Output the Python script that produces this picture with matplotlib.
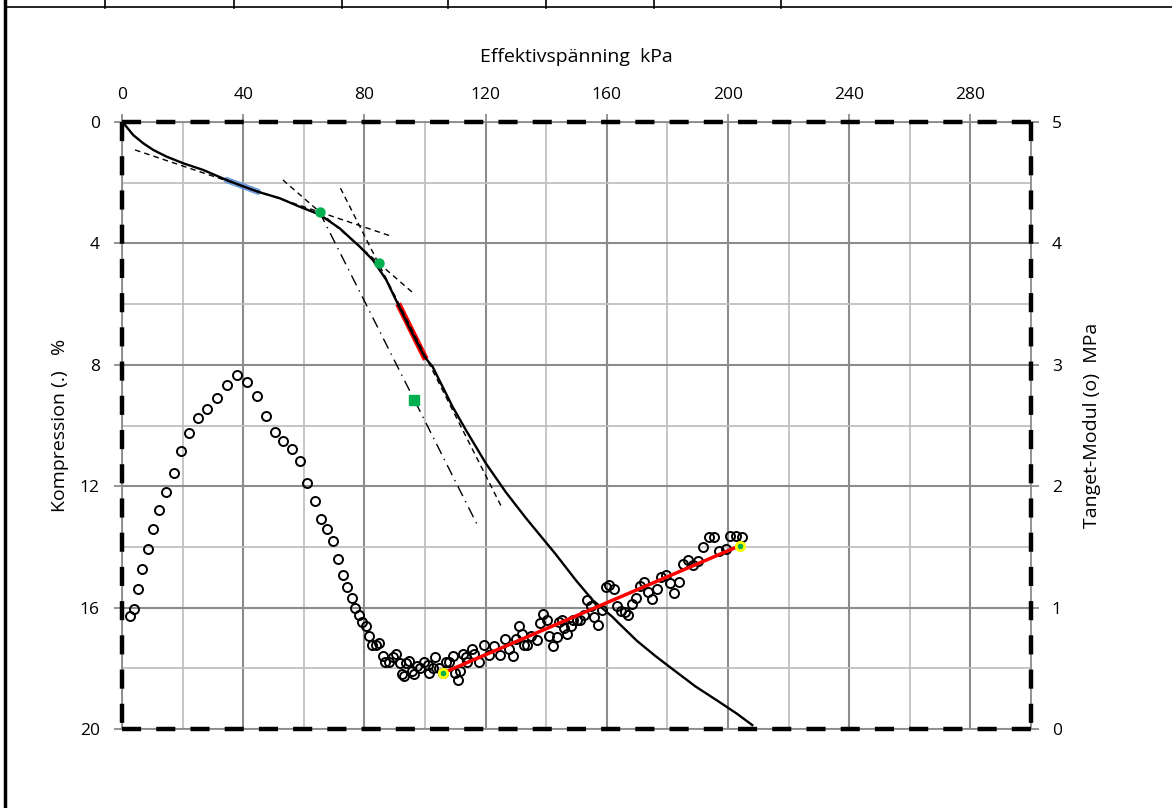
import numpy as np
import matplotlib
matplotlib.use('Agg')
from matplotlib import pyplot as plt
from matplotlib.lines import Line2D

plt.rcParams['font.family'] = ['Open Sans', 'DejaVu Sans']

# kompressionskurva (effektivspänning kPa, kompression %)
sig = [0, 1, 3.7, 7, 10.3, 14.7, 20.2, 26.8, 34.5, 40, 44.9, 52, 58.6, 65.2, 71.8, 78.4,
       82.8, 87.2, 91.3, 95.5, 99.8, 102.5, 109.1, 113.5, 120.1, 126.7, 133.3, 139.9,
       143.2, 149.8, 155.3, 161.8, 164, 170, 176.1, 182, 189.3, 197, 203, 208]
komp = [0, 0.1, 0.43, 0.7, 0.92, 1.14, 1.36, 1.58, 1.91, 2.12, 2.3, 2.51, 2.79, 3.05, 3.5,
        4.1, 4.55, 5.2, 6.05, 6.9, 7.73, 8.06, 9.38, 10.15, 11.25, 12.2, 13.05, 13.85,
        14.25, 15.1, 15.75, 16.3, 16.52, 17.1, 17.6, 18.05, 18.6, 19.1, 19.5, 19.87]

# tangentmodul (kPa, MPa)
mod_sig = [2.6, 4.1, 5.2, 6.7, 8.6, 10.2, 12.3, 14.6, 17.1, 19.5, 22.2, 25.1, 28.2, 31.4,
           34.6, 37.9, 41.1, 44.4, 47.4, 50.6, 53.3, 56.1, 58.6, 61.2, 63.7, 65.7, 67.8,
           69.7, 71.4, 73.0, 74.4, 75.9, 77.0, 78.1, 79.3, 80.6, 81.5, 82.4, 83.7, 84.8,
           86.3, 86.8, 88.0, 89.4, 90.5, 91.8, 92.4, 93.1, 93.8, 94.6, 95.8, 96.5, 97.3,
           98.4, 99.8, 100.9, 101.4, 102.5, 103.4, 104.7, 105.8, 107.0, 108.0, 109.1,
           110.0, 110.8, 111.6, 112.4, 113.5, 114.0, 115.5, 116.3, 117.7, 119.4, 121.2,
           122.9, 124.7, 126.4, 127.6, 128.9, 130.0, 130.9, 131.9, 132.8, 133.8, 135.0,
           137.1, 138.0, 139.0, 140.2, 141.0, 142.1, 143.4, 144.3, 145.2, 145.9, 147.0,
           148.1, 149.0, 150.1, 151.2, 152.5, 153.6, 154.7, 155.8, 157.1, 158.3, 159.9,
           160.7, 162.4, 163.5, 164.8, 165.9, 167.0, 168.4, 169.7, 171.0, 172.3, 173.7,
           175.0, 176.5, 177.8, 179.4, 180.9, 182.2, 183.8, 185.2, 186.9, 188.4, 190.2,
           191.8, 193.7, 195.4, 197.0, 199.2, 200.8, 202.7, 204.6]
mod_val = [0.93, 0.99, 1.15, 1.32, 1.48, 1.65, 1.80, 1.95, 2.11, 2.29, 2.44, 2.56, 2.64, 2.73,
           2.83, 2.92, 2.86, 2.74, 2.58, 2.45, 2.37, 2.31, 2.21, 2.03, 1.88, 1.73, 1.65,
           1.55, 1.40, 1.27, 1.17, 1.08, 1.00, 0.94, 0.88, 0.85, 0.77, 0.69, 0.69, 0.71,
           0.60, 0.55, 0.55, 0.59, 0.62, 0.54, 0.45, 0.44, 0.54, 0.56, 0.48, 0.45, 0.52,
           0.50, 0.55, 0.53, 0.46, 0.50, 0.59, 0.50, 0.46, 0.55, 0.55, 0.60,
           0.46, 0.40, 0.48, 0.62, 0.59, 0.55, 0.66, 0.62, 0.55, 0.69, 0.61,
           0.68, 0.61, 0.74, 0.66, 0.60, 0.74, 0.85, 0.78, 0.69, 0.69, 0.77,
           0.73, 0.87, 0.95, 0.90, 0.77, 0.68, 0.76, 0.88, 0.90, 0.83, 0.78,
           0.85, 0.90, 0.90, 0.90, 0.94, 1.06, 1.01, 0.92, 0.86, 0.98, 1.17,
           1.19, 1.15, 1.01, 0.97, 0.96, 0.94, 1.03, 1.08, 1.18, 1.21, 1.13,
           1.07, 1.15, 1.25, 1.27, 1.20, 1.12, 1.21, 1.36, 1.39, 1.35, 1.38,
           1.50, 1.58, 1.58, 1.47, 1.48, 1.59, 1.59, 1.58]

# hjälplinjer (x0, x1), (y0, y1)
tang_a = ([4.3, 88.8], [0.92, 3.76])
tang_b = ([53.1, 96.5], [1.91, 5.67])
tang_c = ([72.1, 125.1], [2.18, 12.65])
tang_d = ([65.2, 117.4], [2.97, 13.3])
blue_seg = ([34.5, 44.9], [1.91, 2.30])
red_seg = ([91.6, 99.8], [6.08, 7.73])
green_pts = ([65.2, 84.7], [2.97, 4.64])
green_sq = ([96.4], [9.15])
mod_fit = ([105.8, 203.9], [0.46, 1.51])

xticks = [0, 40, 80, 120, 160, 200, 240, 280]
yticks = [0, 4, 8, 12, 16, 20]
y2ticks = [0, 1, 2, 3, 4, 5]

fig = plt.figure(figsize=(11.72, 8.08), dpi=100)
ax = fig.add_axes([122 / 1172, 1 - 729 / 808, 909 / 1172, 607 / 808])
ax2 = ax.twinx()

ax.set_xlim(0, 300)
ax.set_ylim(20, 0)
ax2.set_ylim(0, 5)

ax.set_xticks(np.arange(0, 301, 20), minor=True)
ax.set_yticks(np.arange(0, 21, 2), minor=True)
ax.set_xticks(xticks)
ax.set_yticks(yticks)
ax2.set_yticks(y2ticks)
ax.grid(True, which='minor', color='#c0c0c0', lw=1.3)
ax.grid(True, which='major', color='#8c8c8c', lw=1.5)
ax.set_axisbelow(True)

ax.xaxis.tick_top()
ax.xaxis.set_label_position('top')
ax.tick_params(which='major', direction='out', length=6, color='#8c8c8c', width=1.3,
               labelsize=12.5, pad=8)
ax.tick_params(axis='y', pad=10)
ax.tick_params(which='minor', length=0)
ax2.tick_params(direction='out', length=6, color='#8c8c8c', width=1.3, labelsize=12.5, pad=9)

ax.set_xlabel('Effektivspänning  kPa', fontsize=14, labelpad=17.5)
ax.set_ylabel('Kompression (.)   %', fontsize=14, labelpad=8)
ax2.set_ylabel('Tanget-Modul (o)  MPa', fontsize=14, labelpad=15)

for s in ax.spines.values():
    s.set_color('#8c8c8c')
    s.set_linewidth(1.3)
for s in ax2.spines.values():
    s.set_visible(False)

# streckade ramlinjer
frame = dict(color='black', lw=3.2, ls=(0, (4.3, 3.4)), transform=ax2.transAxes,
             clip_on=False, zorder=8)
ax2.plot([0, 1], [1, 1], **frame)
ax2.plot([0, 1], [0, 0], **frame)
ax2.plot([0, 0], [1, 0], **frame)
ax2.plot([1, 1], [1, 0], **frame)

# kompressionskurva
ax.plot(sig, komp, color='black', lw=1.7, zorder=4)
ax.plot(*blue_seg, color='#5b8fd6', lw=4.5, alpha=0.85, zorder=3, solid_capstyle='round')
ax.plot(*red_seg, color='red', lw=4.5, zorder=3)
ax.plot(*tang_a, color='black', lw=1.0, ls=(0, (4, 3)), zorder=4)
ax.plot(*tang_b, color='black', lw=1.0, ls=(0, (4, 3)), zorder=4)
ax.plot(*tang_c, color='black', lw=1.0, ls=(0, (4, 3)), zorder=4)
ax.plot(*tang_d, color='black', lw=1.0, ls=(0, (8, 4, 1, 4)), zorder=4)
ax.plot(*green_pts, 'o', color='#00b050', ms=6.5, zorder=5)
ax.plot(*green_sq, 's', color='#00b050', ms=6.5, zorder=5)

# tangentmodul
ax2.plot(mod_sig, mod_val, 'o', mfc='none', mec='black', ms=6.5, mew=1.4, zorder=3)
ax2.plot(*mod_fit, color='red', lw=2.5, zorder=4)
ax2.plot(*mod_fit, 'o', color='yellow', ms=7, zorder=5)
ax2.plot(*mod_fit, 'o', color='#00b050', ms=3, zorder=6)

# ram runt sidan
fig.add_artist(Line2D([5 / 1172, 5 / 1172], [0, 1], color='black', lw=2.5))
fig.add_artist(Line2D([5 / 1172, 1], [1 - 6.5 / 808] * 2, color='black', lw=1.2))
for xp in [105, 234, 342, 448, 546, 654, 781]:
    fig.add_artist(Line2D([xp / 1172] * 2, [1, 1 - 8 / 808], color='black', lw=1.2))

fig.savefig('out.png', dpi=100)
